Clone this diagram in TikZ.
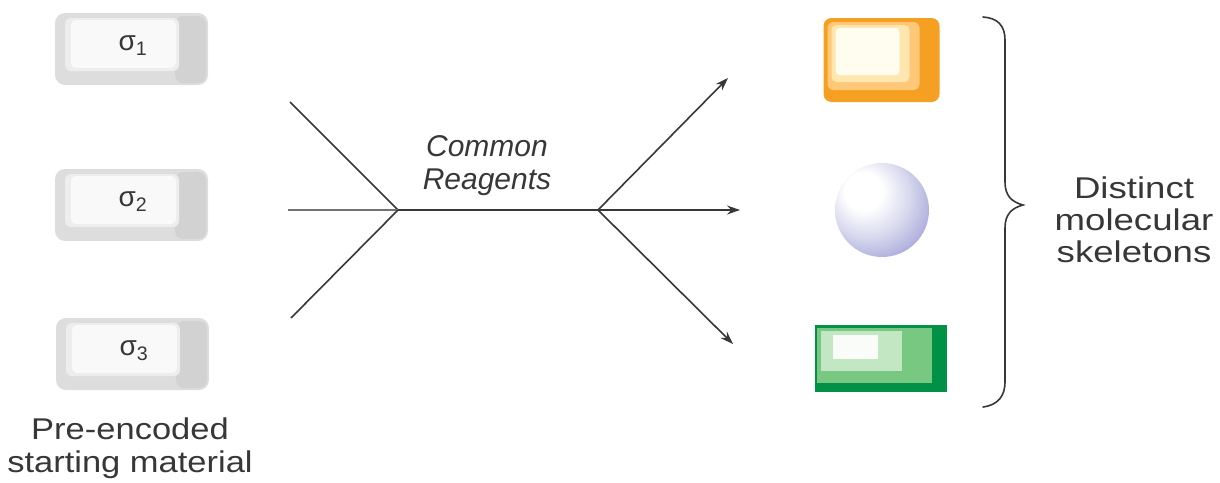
\documentclass[tikz,border=0pt]{standalone}
\usepackage{fontspec}
\setmainfont{Liberation Sans}
\newfontfamily\wideA[FakeStretch=1.15]{Liberation Sans}
\newfontfamily\wideB[FakeStretch=1.22]{Liberation Sans}
\usetikzlibrary{arrows.meta}

\definecolor{inkc}{RGB}{55,55,55}
\definecolor{orA}{RGB}{245,160,35}
\definecolor{orB}{RGB}{255,200,120}
\definecolor{orC}{RGB}{255,230,175}
\definecolor{orD}{RGB}{255,253,240}
\definecolor{grA}{RGB}{0,145,70}
\definecolor{grB}{RGB}{120,200,130}
\definecolor{grC}{RGB}{195,230,195}
\definecolor{grD}{RGB}{250,252,250}
\definecolor{lav}{RGB}{145,145,208}

\pgfdeclareradialshading{lavball}{\pgfpoint{-12bp}{12bp}}{%
  color(0bp)=(white); color(10bp)=(white); color(22bp)=(lav!35);
  color(33bp)=(lav!75); color(40bp)=(lav); color(60bp)=(lav)}

% gray starting-material tile with its label
\newcommand\startbox[4]{%
  \begin{scope}[shift={(#2,#3)}]
    \fill[gray!27, rounded corners=10pt] (-76,-36) rectangle (77,36);
    \fill[gray!35, rounded corners=8pt] (44,-33) rectangle (75,34);
    \fill[gray!14, rounded corners=6pt] (-66,-31) rectangle (48,22);
    \fill[gray!5, rounded corners=5pt] (-60,-29) rectangle (45,19);
    \node[sig] (#1) at (2,-3) {#4};
  \end{scope}}

\begin{document}
\begin{tikzpicture}[x=1pt,y=-1pt,
  lbl/.style={font=\fontsize{30}{33}\selectfont, align=center, text=inkc, inner sep=0pt},
  sig/.style={font=\fontsize{28}{30}\selectfont, text=inkc, inner sep=0pt},
  flow/.style={line width=1.6pt, draw=inkc},
  arr/.style={flow, -{Stealth[length=13pt,width=9pt]}}]
  \useasboundingbox (0,0) rectangle (1220,482);

  % starting materials
  \startbox{s1}{131}{49}{σ\textsubscript{1}}
  \startbox{s2}{131}{205}{σ\textsubscript{2}}
  \startbox{s3}{132}{354}{σ\textsubscript{3}}
  \node[lbl, font=\fontsize{30}{33}\selectfont\wideA] (enc) at (130,448) {Pre-encoded\\starting material};

  % reaction scheme
  \coordinate (a1) at (290,102);
  \coordinate (a2) at (288,210);
  \coordinate (a3) at (291,318);
  \coordinate (j1) at (398,210);
  \coordinate (j2) at (598,210);
  \coordinate (b1) at (728,78);
  \coordinate (b2) at (740,210);
  \coordinate (b3) at (733,344);
  \draw[flow] (a1) -- (j1);
  \draw[flow, draw=inkc!70] (a2) -- (j1);
  \draw[flow] (a3) -- (j1);
  \draw[flow] (j1) -- (j2);
  \draw[arr] (j2) -- (b1);
  \draw[arr] (j2) -- (b2);
  \draw[arr] (j2) -- (b3);
  \node[lbl, font=\fontsize{30}{33}\selectfont\itshape] (reag) at (487,166) {Common\\Reagents};

  % products: orange tile
  \begin{scope}[shift={(881.5,60)}]
    \fill[orA, rounded corners=8pt] (-58,-42) rectangle (58,42);
    \fill[orB, rounded corners=6pt] (-54,-38) rectangle (38,30);
    \fill[orC, rounded corners=5pt] (-50,-35) rectangle (28,22);
    \fill[orD, rounded corners=4pt] (-46,-32) rectangle (18,15);
    \coordinate (p1) at (0,0);
  \end{scope}

  % products: sphere
  \shade[shading=lavball] (882,210) circle[radius=47];
  \coordinate (p2) at (882,210);

  % products: green tile
  \begin{scope}[shift={(881,358.5)}]
    \fill[grA] (-66,-33.5) rectangle (66,33.5);
    \fill[grB] (-64,-31) rectangle (51,24);
    \fill[grC] (-60,-28) rectangle (21,12);
    \fill[grD] (-48,-24) rectangle (-3,0);
    \coordinate (p3) at (0,0);
  \end{scope}

  % brace and its label
  \draw[flow, line cap=round]
    (983,17) .. controls (998,18) and (1005,26) .. (1005,40)
    -- (1005,182) .. controls (1005,196) and (1012,202) .. (1023,205)
    .. controls (1012,208) and (1005,214) .. (1005,228)
    -- (1005,382) .. controls (1005,396) and (998,405) .. (983,407);
  \node[lbl, font=\fontsize{30}{32}\selectfont\wideB] (skel) at (1134,220) {Distinct\\molecular\\skeletons};
\end{tikzpicture}
\end{document}
